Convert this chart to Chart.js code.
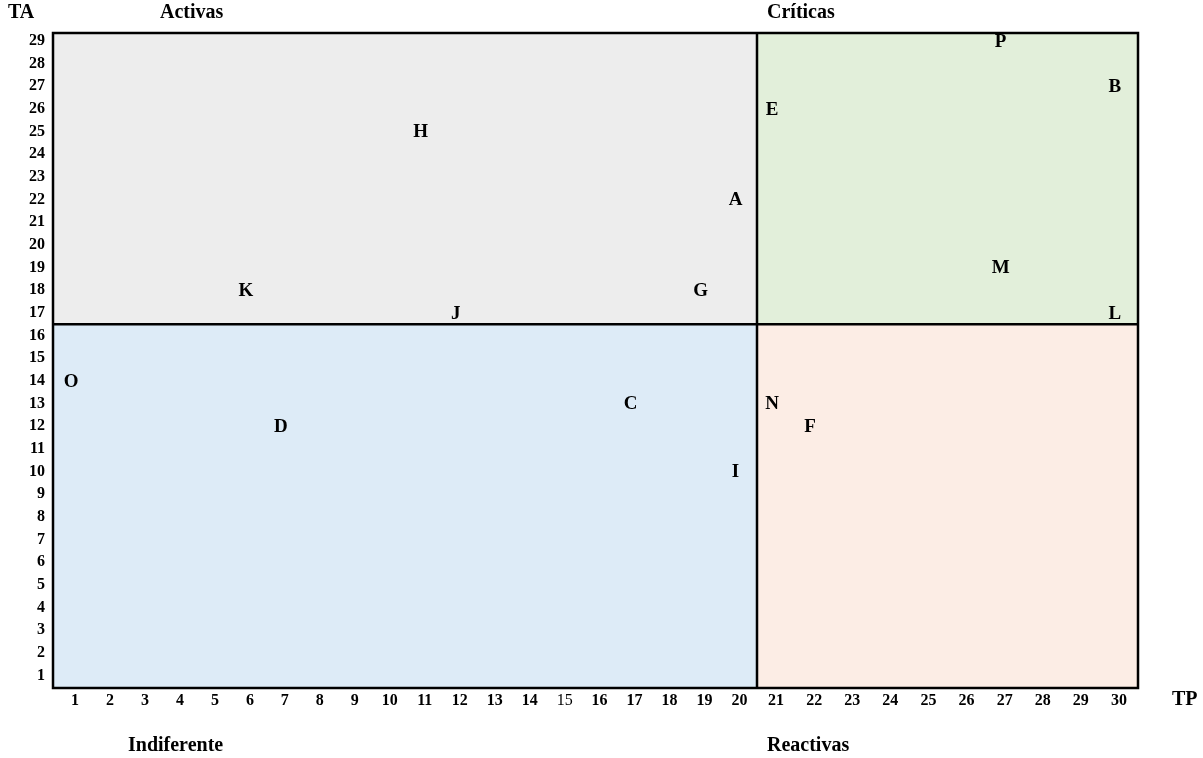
<!DOCTYPE html>
<html>
<head>
<meta charset="utf-8">
<script src="https://cdn.jsdelivr.net/npm/chart.js@4.4.1/dist/chart.umd.min.js"></script>
<style>
  body { margin: 0; background: #fff; }
  #wrap { width: 1203px; height: 758px; position: relative; }
</style>
</head>
<body>
<div id="wrap"><canvas id="matrix"></canvas></div>
<script>
// ===== Data =====
const itemLabels = ['A','B','C','D','E','F','G','H','I','J','K','L','M','N','O','P'];
const tpValues   = [20, 30, 17, 7, 21, 22, 19, 11, 20, 12, 6, 30, 27, 21, 1, 27];
const taValues   = [22, 27, 13, 12, 26, 12, 18, 25, 10, 17, 18, 17, 19, 13, 14, 29];
const tpTicks = [1,2,3,4,5,6,7,8,9,10,11,12,13,14,15,16,17,18,19,20,21,22,23,24,25,26,27,28,29,30];
const taTicks = [1,2,3,4,5,6,7,8,9,10,11,12,13,14,15,16,17,18,19,20,21,22,23,24,25,26,27,28,29];
const tpSplit = 20.5;   // limit between low / high TP
const taSplit = 16.5;   // limit between low / high TA
const quadrantNames = { topLeft: 'Activas', topRight: 'Críticas', bottomLeft: 'Indiferente', bottomRight: 'Reactivas' };
const axisNames = { x: 'TP', y: 'TA' };

const FONT = 'Liberation Serif, Times New Roman, serif';

// split points by side so each uses its own x scale
const leftPts = [], rightPts = [];
itemLabels.forEach((name, i) => {
  const p = { x: tpValues[i], y: taValues[i], name: name };
  (tpValues[i] < tpSplit ? leftPts : rightPts).push(p);
});

const tickFont = c => ({ family: FONT, size: 16, weight: (c.tick && c.tick.value === 15 && c.scale.axis === 'x') ? 'normal' : 'bold' });

function xScale(min, max, weight) {
  return {
    type: 'linear', position: 'bottom', stack: 'tp', stackWeight: weight,
    min: min, max: max,
    grid: { display: false, drawTicks: false },
    border: { display: false },
    ticks: { color: '#000', font: tickFont, autoSkip: false, maxRotation: 0, padding: 3 },
    afterBuildTicks: s => { s.ticks = tpTicks.filter(v => v > min && v < max).map(v => ({ value: v })); },
    afterFit: s => { s.height = 30; }
  };
}

// ===== Quadrant background + frame =====
const quadrants = {
  id: 'quadrants',
  beforeDatasetsDraw(chart) {
    const { ctx, chartArea: a, scales } = chart;
    const xm = scales.xLeft.getPixelForValue(tpSplit);
    const ym = scales.y.getPixelForValue(taSplit);
    ctx.save();
    ctx.fillStyle = '#ededed'; ctx.fillRect(a.left, a.top, xm - a.left, ym - a.top);
    ctx.fillStyle = '#e2efda'; ctx.fillRect(xm, a.top, a.right - xm, ym - a.top);
    ctx.fillStyle = '#ddebf7'; ctx.fillRect(a.left, ym, xm - a.left, a.bottom - ym);
    ctx.fillStyle = '#fcede5'; ctx.fillRect(xm, ym, a.right - xm, a.bottom - ym);
    ctx.strokeStyle = '#000';
    ctx.lineWidth = 2.5;
    ctx.strokeRect(a.left, a.top, a.right - a.left, a.bottom - a.top);
    ctx.beginPath();
    ctx.moveTo(xm, a.top); ctx.lineTo(xm, a.bottom);
    ctx.moveTo(a.left, ym); ctx.lineTo(a.right, ym);
    ctx.stroke();
    ctx.restore();
  }
};

// ===== Letters and captions =====
const texts = {
  id: 'texts',
  afterDatasetsDraw(chart) {
    const { ctx, chartArea: a, scales } = chart;
    const xm = scales.xLeft.getPixelForValue(tpSplit);
    ctx.save();
    ctx.fillStyle = '#000';
    ctx.textBaseline = 'middle';
    ctx.textAlign = 'center';
    ctx.font = 'bold 19px ' + FONT;
    chart.data.datasets.forEach((ds, di) => {
      chart.getDatasetMeta(di).data.forEach((el, i) => {
        ctx.fillText(ds.data[i].name, el.x - 4, el.y + 1);
      });
    });
    ctx.textAlign = 'left';
    ctx.font = 'bold 20px ' + FONT;
    ctx.fillText(axisNames.y, 8, 13);
    ctx.fillText(quadrantNames.topLeft, a.left + 107, 13);
    ctx.fillText(quadrantNames.topRight, xm + 10, 13);
    ctx.fillText(quadrantNames.bottomLeft, a.left + 75, 746);
    ctx.fillText(quadrantNames.bottomRight, xm + 10, 746);
    ctx.fillText(axisNames.x, a.right + 34, 700);
    ctx.restore();
  }
};

new Chart(document.getElementById('matrix'), {
  type: 'scatter',
  data: {
    datasets: [
      { data: leftPts, xAxisID: 'xLeft', yAxisID: 'y', pointRadius: 0, showLine: false },
      { data: rightPts, xAxisID: 'xRight', yAxisID: 'y', pointRadius: 0, showLine: false }
    ]
  },
  options: {
    responsive: true,
    maintainAspectRatio: false,
    animation: false,
    layout: { padding: { top: 33, left: 0, right: 65, bottom: 40 } },
    plugins: { legend: { display: false }, tooltip: { enabled: false } },
    scales: {
      xLeft: xScale(0.37, tpSplit, 704),
      xRight: xScale(tpSplit, 30.5, 381),
      y: {
        type: 'linear', position: 'left',
        min: 0.45, max: 29.35,
        grid: { display: false, drawTicks: false },
        border: { display: false },
        ticks: { color: '#000', font: tickFont, autoSkip: false, padding: 8 },
        afterBuildTicks: s => { s.ticks = taTicks.map(v => ({ value: v })); },
        afterFit: s => { s.width = 53; }
      }
    }
  },
  plugins: [quadrants, texts]
});
</script>
</body>
</html>
